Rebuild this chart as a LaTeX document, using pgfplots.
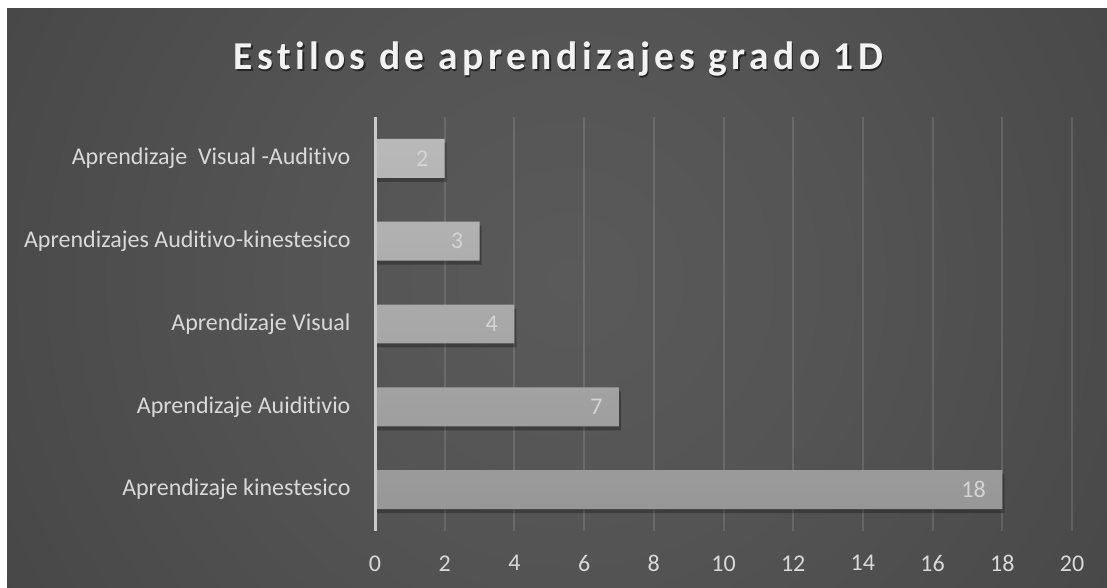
\documentclass[border=0pt]{standalone}
\usepackage{fontspec}
\setmainfont{Carlito}[RawFeature={-liga;-clig;-dlig;-calt}]
\usepackage{pgfplots}
\pgfplotsset{compat=1.18}
\definecolor{bgA}{HTML}{5A5A5A}
\definecolor{bgB}{HTML}{545454}
\definecolor{bgC}{HTML}{4A4A4A}
\definecolor{bgD}{HTML}{3A3A3A}
\definecolor{bgE}{HTML}{222222}
\definecolor{lbl}{HTML}{D9D9D9}
\definecolor{vlab}{HTML}{D4D4D4}
\definecolor{barT}{HTML}{B9B9B9}
\definecolor{barB}{HTML}{979797}
\definecolor{axc}{HTML}{CACACA}
\definecolor{titlecol}{HTML}{F2F2F2}
\pgfdeclareradialshading{bgshade}{\pgfpoint{0bp}{0bp}}{color(0bp)=(bgA); color(9.7bp)=(bgB); color(20.3bp)=(bgC); color(35.7bp)=(bgD); color(44.3bp)=(bgE); color(50bp)=(bgE)}
\begin{document}
\begin{tikzpicture}[x=1pt,y=1pt]
\fill[white] (0,0) rectangle (1107,588);
\begin{scope}
\clip (7,0) rectangle (1107,579);
\fill[bgE] (7,0) rectangle (1107,579);
\shade[shading=bgshade] (570,308) circle (700);
\end{scope}
\node[anchor=base, text=black, opacity=0.55, font=\fontsize{39.5}{41}\selectfont\bfseries\addfontfeature{LetterSpace=11.5}] at (560,516) {Estilos de aprendizajes grado 1D};
\node[anchor=base, text=titlecol, font=\fontsize{39.5}{41}\selectfont\bfseries\addfontfeature{LetterSpace=11.5}] at (558.5,518) {Estilos de aprendizajes grado 1D};
\begin{axis}[
  at={(375pt,57pt)}, anchor=south west,
  scale only axis, width=697pt, height=414pt,
  xmin=0, xmax=20, ymin=-0.5, ymax=4.5,
  xtick={0,2,...,20}, ytick={0,1,2,3,4},
  yticklabels={Aprendizaje kinestesico, Aprendizaje Auiditivio, Aprendizaje Visual, Aprendizajes Auditivo-kinestesico, Aprendizaje\ \ Visual -Auditivo},
  axis line style={draw=none},
  major tick length=0pt,
  xmajorgrids,
  grid style={white, opacity=0.12, line width=2pt},
  tick label style={text=lbl, font=\fontsize{24}{28}\selectfont},
  /pgf/number format/assume math mode=true,
  xticklabel style={yshift=-21pt},
  yticklabel style={xshift=-21pt},
  clip=false,
]
\addplot[xbar, bar width=0.47, draw=none, fill=black, opacity=0.28, xshift=2pt, yshift=-4pt] coordinates {(18,0) (7,1) (4,2) (3,3) (2,4)};
\addplot[xbar, bar width=0.47, draw=none, top color=barT, bottom color=barB,
  nodes near coords,
  nodes near coords style={anchor=east, xshift=-13pt, text=vlab, font=\fontsize{24}{28}\selectfont, /pgf/number format/assume math mode=true}]
  coordinates {(18,0) (7,1) (4,2) (3,3) (2,4)};
\addplot[color=axc, line width=3pt] coordinates {(0,-0.5) (0,4.5)};
\end{axis}
\end{tikzpicture}
\end{document}
